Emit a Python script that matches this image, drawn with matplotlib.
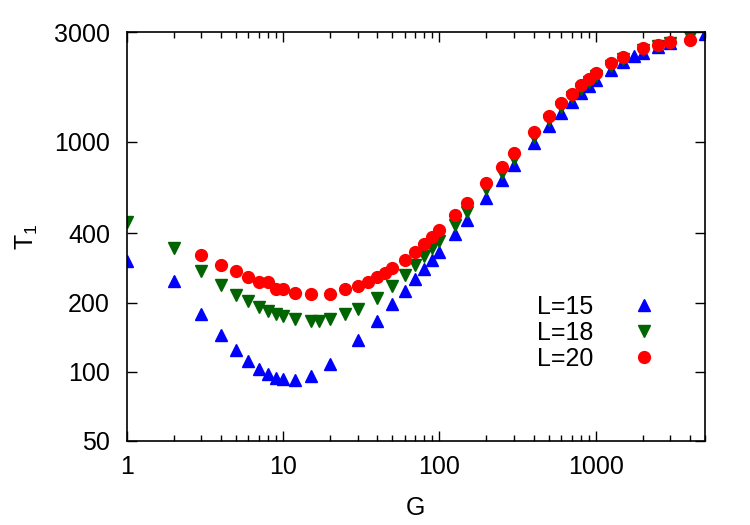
import numpy as np
import matplotlib
matplotlib.use("Agg")
from matplotlib import pyplot as plt
from matplotlib.ticker import FixedLocator, NullFormatter, LogLocator, NullLocator

plt.rcParams['font.family'] = ['Liberation Sans', 'DejaVu Sans']
plt.rcParams['mathtext.default'] = 'regular'

# L=15
g15 = [1, 2, 3, 4, 5, 6, 7, 8, 9, 10, 12, 15, 20, 30, 40, 50, 60, 70, 80, 90, 100,
       125, 150, 200, 250, 300, 400, 500, 600, 700, 800, 900, 1000, 1250, 1500,
       1750, 2000, 2500, 3000, 5000]
t15 = [303, 249, 178, 144, 124, 111, 103, 98, 94, 93, 92, 96, 108, 137, 167, 197,
       225, 254, 280, 306, 332, 397, 458, 567, 681, 790, 988, 1174, 1340, 1489,
       1622, 1755, 1862, 2056, 2213, 2362, 2443, 2575, 2680, 2940]

# L=18
g18 = [1, 2, 3, 4, 5, 6, 7, 8, 9, 10, 12, 15, 17, 20, 25, 30, 40, 50, 60, 70, 80,
       90, 100, 125, 150, 200, 250, 300, 400, 500, 600, 700, 800, 900, 1000, 1250,
       1500, 2000, 2500, 3000, 4000]
t18 = [450, 346, 275, 239, 216, 203, 191, 183, 178, 174, 169, 166, 166, 169, 179,
       188, 210, 235, 263, 290, 318, 345, 370, 436, 497, 621, 734, 838, 1045, 1240,
       1420, 1560, 1700, 1820, 1930, 2130, 2280, 2500, 2610, 2700, 2860]

# L=20
g20 = [3, 4, 5, 6, 7, 8, 9, 10, 12, 15, 20, 25, 30, 35, 40, 45, 50, 60, 70, 80, 90,
       100, 125, 150, 200, 250, 300, 400, 500, 600, 700, 800, 900, 1000, 1250,
       1500, 2000, 2500, 3000, 4000]
t20 = [321, 292, 275, 257, 245, 246, 230, 230, 221, 218, 218, 230, 236, 245, 257,
       268, 282, 306, 332, 360, 387, 415, 478, 540, 663, 777, 895, 1106, 1300, 1479,
       1617, 1762, 1876, 1990, 2198, 2333, 2550, 2635, 2724, 2768]

yticks = [50, 100, 200, 400, 1000, 3000]

fig = plt.figure(figsize=(7.5, 5.25), dpi=100)
ax = fig.add_axes([0.169, 0.16, 0.771, 0.779])

ax.plot(g15, t15, '^', color='#0000ff', ms=8, mec='#0000ff', label='L=15')
ax.plot(g18, t18, 'v', color='#006400', ms=8, mec='#006400', label='L=18')
ax.plot(g20, t20, 'o', color='#ff0000', ms=8.5, mec='#ff0000', label='L=20')

ax.set_xscale('log')
ax.set_yscale('log')
ax.set_xlim(1, 5000)
ax.set_ylim(50, 3000)

ax.yaxis.set_major_locator(FixedLocator(yticks))
ax.yaxis.set_minor_locator(NullLocator())
ax.set_yticklabels([str(v) for v in yticks])
ax.xaxis.set_major_locator(FixedLocator([1, 10, 100, 1000]))
ax.xaxis.set_minor_locator(LogLocator(base=10, subs=np.arange(2, 10), numticks=20))
ax.xaxis.set_minor_formatter(NullFormatter())
ax.set_xticklabels(['1', '10', '100', '1000'])

ax.tick_params(which='both', direction='in', top=True, right=True, labelsize=18, width=1)
ax.tick_params(axis='x', which='major', length=7, pad=10)
ax.tick_params(axis='y', which='major', length=7, pad=12)
ax.tick_params(which='minor', length=4)
for s in ax.spines.values():
    s.set_linewidth(1.2)

ax.set_xlabel('G', fontsize=18, labelpad=12)
ax.set_ylabel('T$_1$', fontsize=18, labelpad=10)

ax.legend(loc='center', bbox_to_anchor=(0.818, 0.265), markerfirst=False,
          frameon=False, fontsize=18, labelspacing=0.08, handletextpad=1.3,
          handlelength=1.5)

fig.savefig('out.png', dpi=100)
